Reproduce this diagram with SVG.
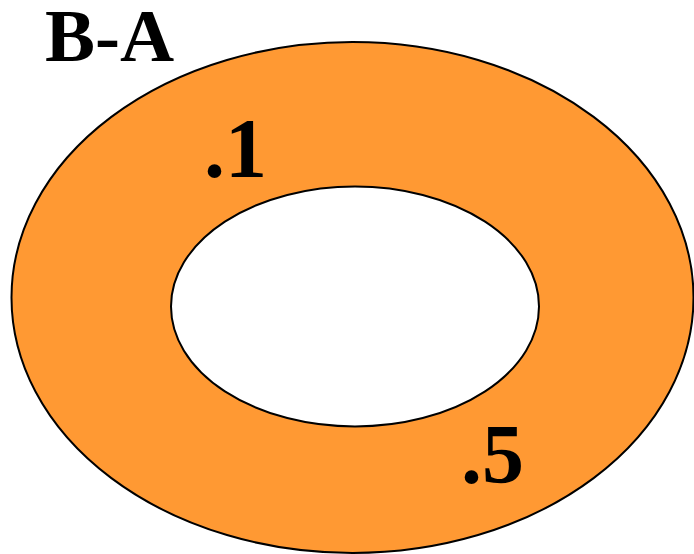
<svg xmlns="http://www.w3.org/2000/svg" width="694" height="554" viewBox="0 0 694 554">
<style>
.lbl{font-family:"Liberation Serif","Times New Roman",serif;font-weight:bold;fill:#000}
.ring{stroke:#000;stroke-width:2}
</style>
<rect width="694" height="554" fill="#fff"/>
<g id="setB">
<ellipse class="ring" cx="352.5" cy="297.5" rx="341" ry="255.5" fill="#FF9933"/>
</g>
<g id="setA">
<ellipse class="ring" cx="355" cy="306.5" rx="184" ry="120" fill="#fff"/>
</g>
<g id="labels">
<text class="lbl" x="45" y="61" font-size="75">B-A</text>
<text class="lbl" x="204" y="177" font-size="84">.1</text>
<text class="lbl" x="461" y="483" font-size="84">.5</text>
</g>
</svg>
